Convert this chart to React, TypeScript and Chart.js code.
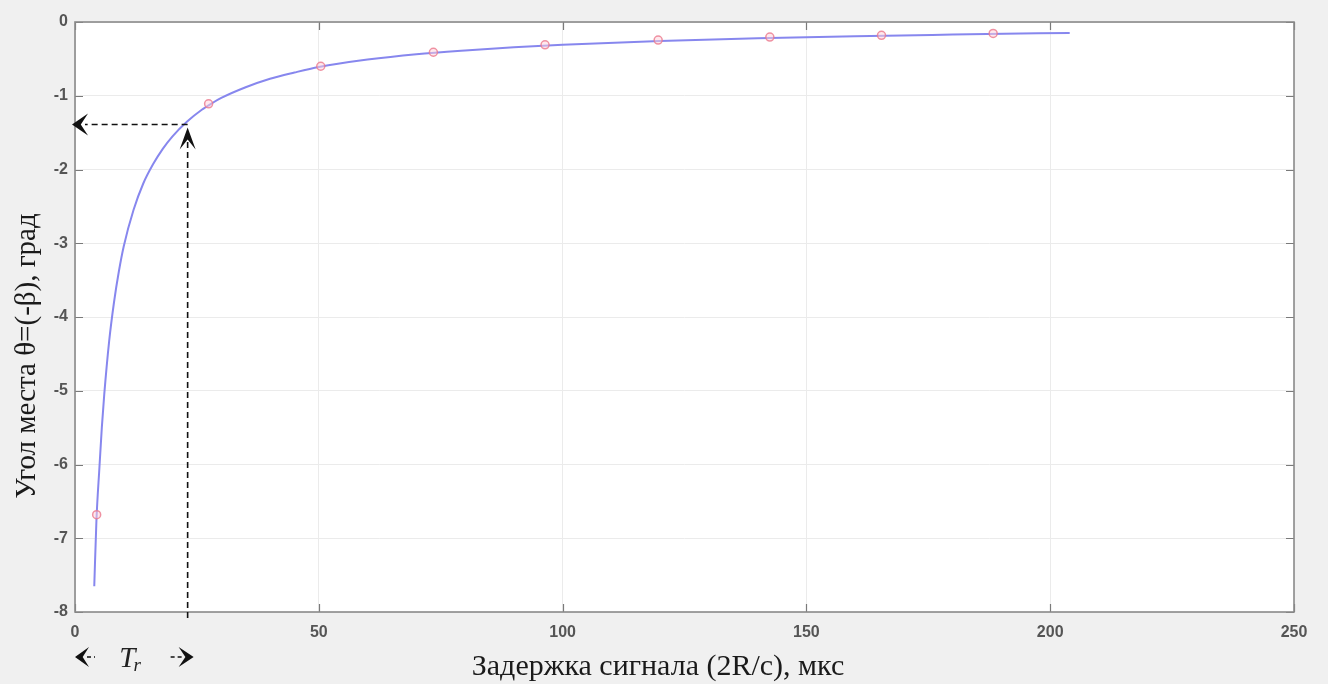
import React, { useEffect, useRef } from 'react';
import { Chart, registerables } from 'chart.js';

Chart.register(...registerables);

// Fitted curve: delay in µs, elevation angle in degrees
const curveDelay = [3.95, 4.4, 5, 5.5, 6, 7, 8, 9, 10, 12, 14, 16, 18, 20, 23, 26, 28, 30, 35, 40, 45, 50, 60, 70, 80, 90, 100, 120, 140, 160, 180, 204];
const curveAngle = [-7.65, -6.75, -6.05, -5.5, -5.05, -4.33, -3.8, -3.38, -3.04, -2.55, -2.19, -1.93, -1.72, -1.55, -1.35, -1.19, -1.105, -1.03, -0.885, -0.77, -0.685, -0.61, -0.51, -0.437, -0.385, -0.342, -0.308, -0.257, -0.22, -0.192, -0.171, -0.148];

// Measured points (red circles)
const pointDelay = [4.44, 27.4, 50.4, 73.5, 96.4, 119.6, 142.5, 165.4, 188.3];
const pointAngle = [-6.68, -1.11, -0.6, -0.41, -0.31, -0.245, -0.205, -0.18, -0.155];

// Axis ranges / ticks
const xMin = 0;
const xMax = 250;
const xStep = 50;
const yMin = -8;
const yMax = 0;
const yStep = 1;

// Annotation (Tr marker)
const trDelay = 23.1;
const trAngle = -1.39;

const xTitle = 'Задержка сигнала (2R/c), мкс';
const yTitle = 'Угол места θ=(-β), град';
const trMain = 'T';
const trSub = 'r';

function arrowHead(ctx: CanvasRenderingContext2D, tx: number, ty: number, dir: 'left' | 'right' | 'up', len: number, half: number) {
  ctx.beginPath();
  if (dir === 'left') {
    ctx.moveTo(tx, ty);
    ctx.lineTo(tx + len, ty - half);
    ctx.lineTo(tx + len * 0.55, ty);
    ctx.lineTo(tx + len, ty + half);
  } else if (dir === 'right') {
    ctx.moveTo(tx, ty);
    ctx.lineTo(tx - len, ty - half);
    ctx.lineTo(tx - len * 0.55, ty);
    ctx.lineTo(tx - len, ty + half);
  } else {
    ctx.moveTo(tx, ty);
    ctx.lineTo(tx - half, ty + len);
    ctx.lineTo(tx, ty + len * 0.55);
    ctx.lineTo(tx + half, ty + len);
  }
  ctx.closePath();
  ctx.fill();
}

const decorPlugin = {
  id: 'decor',
  beforeDraw(chart: any) {
    const { ctx, chartArea: a, width, height } = chart;
    ctx.save();
    ctx.fillStyle = '#f0f0f0';
    ctx.fillRect(0, 0, width, height);
    ctx.fillStyle = '#ffffff';
    ctx.fillRect(a.left, a.top, a.right - a.left, a.bottom - a.top);
    ctx.restore();
  },
  beforeDatasetsDraw(chart: any) {
    const { ctx, chartArea: a, scales } = chart;
    const xs = scales.x;
    const ys = scales.y;
    ctx.save();
    ctx.strokeStyle = '#7a7a7a';
    ctx.lineWidth = 1.2;
    const tl = 8;
    ctx.beginPath();
    for (let v = xMin; v <= xMax; v += xStep) {
      const px = Math.round(xs.getPixelForValue(v)) + 0.5;
      ctx.moveTo(px, a.bottom);
      ctx.lineTo(px, a.bottom - tl);
      ctx.moveTo(px, a.top);
      ctx.lineTo(px, a.top + tl);
    }
    for (let v = yMin; v <= yMax; v += yStep) {
      const py = Math.round(ys.getPixelForValue(v)) + 0.5;
      ctx.moveTo(a.left, py);
      ctx.lineTo(a.left + tl, py);
      ctx.moveTo(a.right, py);
      ctx.lineTo(a.right - tl, py);
    }
    ctx.stroke();
    ctx.strokeStyle = '#8a8a8a';
    ctx.lineWidth = 1.6;
    ctx.strokeRect(a.left, a.top, a.right - a.left, a.bottom - a.top);
    ctx.restore();
  },
  afterDraw(chart: any) {
    const { ctx, chartArea: a, scales } = chart;
    const xs = scales.x;
    const ys = scales.y;
    const px = xs.getPixelForValue(trDelay);
    const py = ys.getPixelForValue(trAngle);
    ctx.save();
    ctx.strokeStyle = '#111';
    ctx.fillStyle = '#111';
    ctx.lineWidth = 1.6;
    ctx.setLineDash([6, 4]);
    // horizontal dashed
    ctx.beginPath();
    ctx.moveTo(px, py);
    ctx.lineTo(a.left + 10, py);
    ctx.stroke();
    // vertical dashed
    ctx.beginPath();
    ctx.moveTo(px, a.bottom + 6);
    ctx.lineTo(px, py + 14);
    ctx.stroke();
    ctx.setLineDash([]);
    arrowHead(ctx, a.left - 3, py, 'left', 16, 11);
    arrowHead(ctx, px, py + 3, 'up', 22, 8);

    // Tr marker below the axis
    const by = 657;
    const x0 = xs.getPixelForValue(0);
    arrowHead(ctx, x0, by, 'left', 14, 10);
    ctx.setLineDash([4, 3]);
    ctx.beginPath();
    ctx.moveTo(x0 + 12, by);
    ctx.lineTo(x0 + 20, by);
    ctx.stroke();
    ctx.beginPath();
    ctx.moveTo(px - 17, by);
    ctx.lineTo(px - 3, by);
    ctx.stroke();
    ctx.setLineDash([]);
    arrowHead(ctx, px + 6, by, 'right', 15, 10);

    ctx.fillStyle = '#222';
    ctx.textBaseline = 'alphabetic';
    ctx.textAlign = 'left';
    ctx.font = 'italic 29px "Liberation Serif", "Times New Roman", serif';
    const mid = (x0 + px) / 2;
    const tw = ctx.measureText(trMain).width;
    ctx.fillText(trMain, mid - tw / 2 - 4, 667);
    ctx.font = 'italic 19px "Liberation Serif", "Times New Roman", serif';
    ctx.fillText(trSub, mid + tw / 2 - 6, 671);

    // axis titles
    ctx.textAlign = 'center';
    ctx.textBaseline = 'middle';
    ctx.fillStyle = '#1a1a1a';
    ctx.font = '30px "Liberation Serif", "Times New Roman", serif';
    ctx.fillText(xTitle, 658, 667);
    ctx.font = '29px "Liberation Serif", "Times New Roman", serif';
    ctx.save();
    ctx.translate(27, 356);
    ctx.rotate(-Math.PI / 2);
    ctx.fillText(yTitle, 0, 0);
    ctx.restore();
    ctx.restore();
  },
};

export default function App() {
  const ref = useRef<HTMLCanvasElement | null>(null);

  useEffect(() => {
    if (!ref.current) return;
    const tickFont = { family: '"Liberation Sans", Arial, sans-serif', size: 16, weight: 'bold' as const };
    const chart = new Chart(ref.current, {
      type: 'scatter',
      data: {
        datasets: [
          {
            label: 'points',
            data: pointDelay.map((x, i) => ({ x, y: pointAngle[i] })),
            showLine: false,
            pointRadius: 4,
            pointBorderWidth: 1.5,
            borderColor: 'rgba(235,120,140,0.8)',
            backgroundColor: 'rgba(255,210,220,0.5)',
            order: 0,
          },
          {
            label: 'curve',
            data: curveDelay.map((x, i) => ({ x, y: curveAngle[i] })),
            showLine: true,
            borderColor: 'rgb(135,135,238)',
            borderWidth: 2,
            pointRadius: 0,
            cubicInterpolationMode: 'monotone',
            order: 1,
          },
        ],
      },
      options: {
        animation: false,
        responsive: false,
        devicePixelRatio: 1,
        layout: { padding: { top: 22, right: 34, left: 0, bottom: 0 } },
        plugins: { legend: { display: false }, tooltip: { enabled: false } },
        scales: {
          x: {
            type: 'linear',
            min: xMin,
            max: xMax,
            ticks: { stepSize: xStep, font: tickFont, color: '#555', padding: 11, maxRotation: 0 },
            grid: { color: '#ebebeb', drawTicks: false },
            border: { display: false },
            afterFit: (s: any) => { s.height = 72; },
          },
          y: {
            type: 'linear',
            min: yMin,
            max: yMax,
            ticks: { stepSize: yStep, font: tickFont, color: '#555', padding: 7 },
            grid: { color: '#ebebeb', drawTicks: false },
            border: { display: false },
            afterFit: (s: any) => { s.width = 75; },
          },
        },
      },
      plugins: [decorPlugin],
    } as any);
    return () => chart.destroy();
  }, []);

  return (
    <div style={{ position: 'fixed', left: 0, top: 0, width: 1328, height: 684 }}>
      <canvas ref={ref} width={1328} height={684} style={{ display: 'block', width: 1328, height: 684 }} />
    </div>
  );
}
